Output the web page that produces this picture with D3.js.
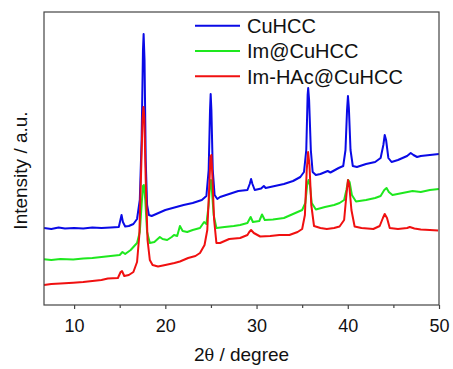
<!DOCTYPE html>
<html><head><meta charset="utf-8">
<script src="https://cdn.jsdelivr.net/npm/d3@7"></script>
<style>body{margin:0;background:#fff}svg{display:block}</style>
</head><body>
<script>
// ---- data (intensity in arbitrary units) ----
const seriesNames = ["CuHCC", "Im@CuHCC", "Im-HAc@CuHCC"];
const seriesColors = ["#0a0ae6", "#1ee81e", "#f01010"];

const angleCuHCC = [6.7,7.5,8.3,9,10,11,12,13,14,14.9,15.1,15.2,15.35,15.6,16,16.5,16.9,17.2,17.4,17.55,17.62,17.72,17.85,18.0,18.2,18.5,19,20,21,22,23,24,24.5,24.75,24.9,24.97,25.05,25.2,25.4,25.7,26,27,28,29,29.25,29.4,29.55,29.8,30.5,30.8,31,32,33,34,34.8,35.2,35.45,35.6,35.66,35.76,35.95,36.15,36.5,37,37.8,38.1,39,39.5,39.75,39.92,40.02,40.12,40.3,40.55,41,42,43,43.6,43.9,44.05,44.2,44.45,44.8,45.5,46.5,46.9,47.2,47.6,48,49,50];
const intensityCuHCC = [77,76,77.5,76.5,77,76.5,77.5,77,77.5,78,86,90,83,78.5,79,81,86,105,165,255,271,245,145,100,90,89,91,95,97.5,100,102,105,109,135,195,211,195,135,110,106,108,111,114,115,121,126,121,115,116.5,119,117,119,121,124,128,133,155,210,217,205,155,133,130,131,134,132.5,137,139,155,195,209,197,155,139,138,141,143,147,160,170,165,147,143,145,149,152,150,148,149,150,151];

const angleIm = [6.7,7.5,8.5,9.9,11,12,13,14,15,15.3,15.6,16.2,16.9,17.2,17.4,17.55,17.65,17.8,18.0,18.3,18.8,19.4,19.7,20.2,20.7,20.95,21.3,21.6,21.9,22.4,23,23.8,24.25,24.5,24.75,24.9,25.0,25.1,25.3,25.6,26.5,27.5,28.2,29,29.35,29.6,30.3,30.6,30.9,31.8,33,34,35,35.35,35.55,35.7,35.85,36.05,36.5,37.5,38.5,39.1,39.6,39.85,40.05,40.2,40.45,40.9,42,43,43.6,44.0,44.25,44.5,44.9,46,47.1,48,49,50];
const intensityIm = [45.7,45,46,45.5,46.5,47,48,49,50,53,51,55,62,73,100,119,120,105,73,62,63,68,66,65,68,70,69,79,74,73,75,77,83,81,100,120,125,115,90,77,78,79,80,82,88,83,84,90.5,85,85.5,87,91,95,102,120,125,120,102,95.5,98,100,102,105,115,125,123,110,103.5,105,107,109,115,117,113,110,112,114,113,115,116];

const angleImHAc = [6.7,7.5,8.5,9.9,11,12,13,13.7,14.8,15.1,15.25,15.5,16,16.5,16.9,17.15,17.35,17.5,17.6,17.7,17.85,18.05,18.3,18.6,19.2,20,21,21.6,22.5,23.3,23.8,24.3,24.6,24.8,24.95,25.05,25.15,25.35,25.6,26,27,28.2,29,29.2,29.4,29.7,30.4,31.5,32.5,33.6,34.5,35,35.3,35.5,35.65,35.8,36.0,36.3,37,37.7,38.5,39.1,39.6,39.85,40.02,40.15,40.4,40.75,41.5,42.8,43.5,43.85,44.05,44.3,44.6,45.5,46.5,46.8,47.3,48,49,49.9];
const intensityImHAc = [20,21,21.5,22.3,23,24,25,26.5,27,33,34,29,30,33,43,70,135,185,198,187,125,65,45,40,38.5,40,42,43.5,47,49,52,60,75,115,148,150,130,85,62,62,66,67,70,73,75,72,68.5,69,70,70,73,76,90,135,153,140,100,79,77,76,77,78.5,85,110,125,121,95,78.5,77,76,79,87,91,87,77,76,77,78,76.5,75.5,75,74.5];

const majorTicks = [10, 20, 30, 40, 50];
const minorTicks = [15, 25, 35, 45];
const xTitle = "2θ / degree";
const yTitle = "Intensity / a.u.";

// ---- layout ----
const W = 453, H = 369;
const m = {left: 44, right: 14, top: 12, bottom: 64};
const font = "'Liberation Sans', Arial, Helvetica, sans-serif";

const svg = d3.select("body").append("svg").attr("width", W).attr("height", H);

const x = d3.scaleLinear().domain([6.7, 50]).range([m.left, W - m.right]);
const y = d3.scaleLinear().domain([0, 293]).range([H - m.bottom, m.top]);

const series = [
  {name: seriesNames[0], color: seriesColors[0], xs: angleCuHCC, ys: intensityCuHCC},
  {name: seriesNames[1], color: seriesColors[1], xs: angleIm, ys: intensityIm},
  {name: seriesNames[2], color: seriesColors[2], xs: angleImHAc, ys: intensityImHAc}
];

const line = d3.line().x(d => x(d[0])).y(d => y(d[1]));

svg.append("g").selectAll("path").data(series).join("path")
  .attr("d", s => line(s.xs.map((v, i) => [v, s.ys[i]])))
  .attr("fill", "none")
  .attr("stroke", s => s.color)
  .attr("stroke-width", 2)
  .attr("stroke-linejoin", "round");

// frame
svg.append("rect")
  .attr("x", x.range()[0]).attr("y", y.range()[1])
  .attr("width", x.range()[1] - x.range()[0])
  .attr("height", y.range()[0] - y.range()[1])
  .attr("fill", "none").attr("stroke", "#444").attr("stroke-width", 1.2);

// axes
const gx = svg.append("g").attr("transform", `translate(0,${y.range()[0]})`)
  .call(d3.axisBottom(x).tickValues(majorTicks).tickSize(4).tickPadding(10).tickFormat(d3.format("d")));
gx.select(".domain").remove();
gx.selectAll("line").attr("stroke", "#444").attr("stroke-width", 1.2);
gx.selectAll("text").attr("font-family", font).attr("font-size", 18).attr("fill", "#111");

const gm = svg.append("g").attr("transform", `translate(0,${y.range()[0]})`)
  .call(d3.axisBottom(x).tickValues(minorTicks).tickSize(3).tickFormat(""));
gm.select(".domain").remove();
gm.selectAll("line").attr("stroke", "#444").attr("stroke-width", 1.2);

// axis titles
const xt = svg.append("text")
  .attr("x", (x.range()[0] + x.range()[1]) / 2).attr("y", 361)
  .attr("text-anchor", "middle").attr("font-family", font).attr("font-size", 19).attr("fill", "#111");
xt.append("tspan").text(xTitle.slice(0, 1));
xt.append("tspan").attr("font-family", "'DejaVu Serif', serif").attr("font-size", 16).text(xTitle.slice(1, 2));
xt.append("tspan").text(xTitle.slice(2));

svg.append("text")
  .attr("transform", `translate(27,${(y.range()[0] + y.range()[1]) / 2 + 12}) rotate(-90)`)
  .attr("text-anchor", "middle").attr("font-family", font).attr("font-size", 19).attr("fill", "#111")
  .text(yTitle);

// legend
const lg = svg.append("g");
series.forEach((s, i) => {
  const ly = 25.7 + i * 25.3;
  lg.append("line").attr("x1", 195).attr("x2", 240).attr("y1", ly).attr("y2", ly)
    .attr("stroke", s.color).attr("stroke-width", 2);
  lg.append("text").attr("x", 247).attr("y", ly + 7.3)
    .attr("font-family", font).attr("font-size", 20).attr("fill", "#111").text(s.name);
});
</script>
</body></html>
